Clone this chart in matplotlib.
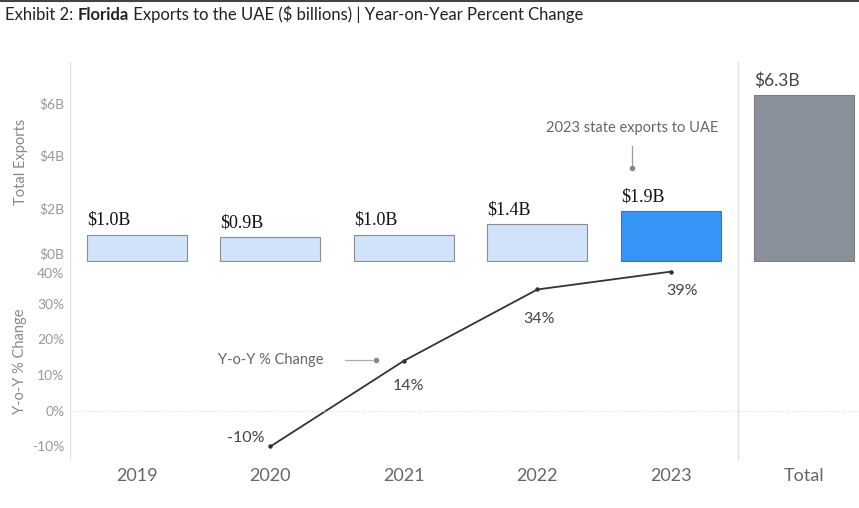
import matplotlib.pyplot as plt
from matplotlib.lines import Line2D

# data
years = ["2019", "2020", "2021", "2022", "2023", "Total"]
exports = [1.0, 0.9, 1.0, 1.4, 1.9, 6.3]
export_labels = ["$1.0B", "$0.9B", "$1.0B", "$1.4B", "$1.9B", "$6.3B"]
yoy_years = [1, 2, 3, 4]
yoy = [-10, 14, 34, 39]
yoy_labels = ["-10%", "14%", "34%", "39%"]

plt.rcParams['font.family'] = ['Lato', 'DejaVu Sans']

W, H = 859, 508
fig = plt.figure(figsize=(W / 100, H / 100), dpi=100)

def box(x0, y0, x1, y1):
    # pixel box -> figure fraction
    return [x0 / W, 1 - y1 / H, (x1 - x0) / W, (y1 - y0) / H]

ax1 = fig.add_axes(box(70, 62, 859, 262))
ax2 = fig.add_axes(box(70, 262, 859, 460))

xlim = (-0.502, 5.41)
bar_w = 0.75
colors = ["#d0e3f9"] * 4 + ["#3595f7", "#8a9099"]
edges = ["#8c8c8c"] * 4 + ["#2a78c8", "#7a7f86"]

# top: bars
ax1.bar(range(6), exports, width=bar_w, color=colors, edgecolor=edges, linewidth=0.8)
ax1.set_xlim(xlim)
ax1.set_ylim(-0.04, 7.55)
ax1.set_yticks([0, 2, 4, 6])
ax1.set_yticklabels(["$0B", "$2B", "$4B", "$6B"])
for i, (v, lab) in enumerate(zip(exports, export_labels)):
    if i < 5:
        ax1.text(i - bar_w / 2, v + 0.22, lab, ha='left', va='bottom',
                 fontsize=13, family='Liberation Serif', color='#111111')
    else:
        ax1.text(i - bar_w / 2, v + 0.22, lab, ha='left', va='bottom',
                 fontsize=12.5, color='#444444')

ax1.text(3.71, 5.05, "2023 state exports to UAE", ha='center', va='center',
         fontsize=10.5, color='#666666')
ax1.plot([3.71, 3.71], [4.36, 3.6], color='#999999', lw=0.9)
ax1.plot([3.71], [3.53], 'o', color='#888888', ms=3)
ax1.set_ylabel("Total Exports", color='#888888', fontsize=10.5, labelpad=8)

# bottom: yoy line
ax2.plot(yoy_years, yoy, color='#333333', lw=1.3, marker='o', ms=2.2)
ax2.set_xlim(xlim)
ax2.set_ylim(-13.8, 41.7)
ax2.set_yticks([-10, 0, 10, 20, 30, 40])
ax2.set_yticklabels(["-10%", "0%", "10%", "20%", "30%", "40%"])
ax2.axhline(0, color='#dddddd', lw=0.8, ls=':')

# label offsets (points) as placed in the original
offs = [(-4, 6), (3, -18), (1, -21), (8, -14)]
for x, v, lab, o in zip(yoy_years, yoy, yoy_labels, offs):
    ax2.annotate(lab, (x, v), xytext=o, textcoords='offset points',
                 ha='right' if v < 0 else 'center', va='center',
                 fontsize=11.5, color='#444444')

ax2.text(1.0, 14.1, "Y-o-Y % Change", ha='center', va='center', fontsize=10.5, color='#666666')
ax2.plot([1.56, 1.76], [14.1, 14.1], color='#aaaaaa', lw=0.9)
ax2.plot([1.79], [14.1], 'o', color='#888888', ms=3)
ax2.set_ylabel("Y-o-Y % Change", color='#888888', fontsize=10.5, labelpad=4)

ax2.set_xticks(range(6))
ax2.set_xticklabels(years, fontsize=13, color='#666666')
ax2.tick_params(axis='x', length=0, pad=6)

for ax in (ax1, ax2):
    for s in ['top', 'right', 'bottom']:
        ax.spines[s].set_visible(False)
    ax.spines['left'].set_color('#e0e0e0')
    ax.tick_params(axis='y', length=0, labelsize=10, labelcolor='#999999', pad=4)
    ax.axvline(4.5, color='#e0e0e0', lw=1)
ax1.tick_params(axis='x', length=0, labelbottom=False)

# keep $0B and 40% apart like the original
ax1.get_yticklabels()[0].set_verticalalignment('bottom')
ax2.get_yticklabels()[-1].set_verticalalignment('top')

# title
t1 = fig.text(5 / W, 1 - 15 / H, "Exhibit 2: ", ha='left', va='center', fontsize=12, color='#222222')
t2 = ax1.annotate("Florida", xy=(1, 0), xycoords=t1, va='bottom', ha='left',
                  fontsize=12, fontweight='bold', color='#222222', annotation_clip=False)
ax1.annotate(" Exports to the UAE ($ billions) | Year-on-Year Percent Change", xy=(1, 0),
             xycoords=t2, va='bottom', ha='left', fontsize=12, color='#222222',
             annotation_clip=False)
fig.add_artist(Line2D([0, 1], [1 - 1 / H, 1 - 1 / H], color='#444444', lw=1.5))

fig.savefig("out.png", dpi=100)
